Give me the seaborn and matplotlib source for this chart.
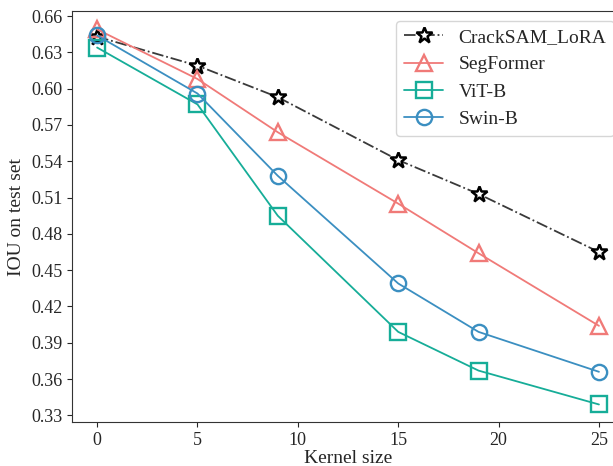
import numpy as np
import pandas as pd
import matplotlib
matplotlib.use("Agg")
import matplotlib.pyplot as plt
import seaborn as sns

kernel_sizes = [0, 5, 9, 15, 19, 25]
cracksam_lora = [0.643, 0.619, 0.593, 0.541, 0.513, 0.465]
segformer = [0.649, 0.608, 0.564, 0.505, 0.464, 0.404]
vit_b = [0.634, 0.587, 0.495, 0.399, 0.367, 0.339]
swin_b = [0.644, 0.596, 0.528, 0.439, 0.399, 0.366]
y_ticks = [0.33, 0.36, 0.39, 0.42, 0.45, 0.48, 0.51, 0.54, 0.57, 0.60, 0.63, 0.66]

models = ["CrackSAM_LoRA", "SegFormer", "ViT-B", "Swin-B"]
series = [cracksam_lora, segformer, vit_b, swin_b]

df = pd.DataFrame({
    "Kernel size": kernel_sizes * len(models),
    "IOU": [v for s in series for v in s],
    "Model": [m for m in models for _ in kernel_sizes],
})

sns.set_style("ticks")
plt.rcParams["font.family"] = ["Liberation Serif", "DejaVu Serif"]

colors = {"CrackSAM_LoRA": "#3a3a3a", "SegFormer": "#f07a78",
          "ViT-B": "#16ad98", "Swin-B": "#3b8fc1"}
markers = {"CrackSAM_LoRA": "*", "SegFormer": "^", "ViT-B": "s", "Swin-B": "o"}

fig = plt.figure(figsize=(6.13, 4.66), dpi=100)
# axes runs past the right edge, like the cropped original
ax = fig.add_axes([0.1175, 0.0944, 0.9005, 0.8820])
for m in models:
    sub = df[df["Model"] == m]
    is_ours = m == "CrackSAM_LoRA"
    sns.lineplot(data=sub, x="Kernel size", y="IOU", ax=ax, label=m,
                 color=colors[m], marker=markers[m],
                 linestyle="-." if is_ours else "-",
                 markersize=12 if is_ours else 11,
                 markerfacecolor="white" if is_ours else "none",
                 markeredgecolor="black" if is_ours else colors[m],
                 markeredgewidth=1.8 if is_ours else 1.7,
                 linewidth=1.3)

ax.set_xlim(-1.25, 26.25)
ax.set_ylim(0.3245, 0.6642)
ax.set_yticks(y_ticks)
ax.set_yticklabels([f"{t:.2f}" for t in y_ticks])
ax.set_xticks([0, 5, 10, 15, 20, 25])
ax.tick_params(labelsize=13)
ax.set_xlabel("Kernel size", fontsize=14, labelpad=1)
ax.set_ylabel("IOU on test set", fontsize=14)
for sp in ax.spines.values():
    sp.set_color("#333333")
ax.legend(fontsize=14, loc="upper right", frameon=True, handlelength=2.0)

fig.savefig("out.png", dpi=100)
